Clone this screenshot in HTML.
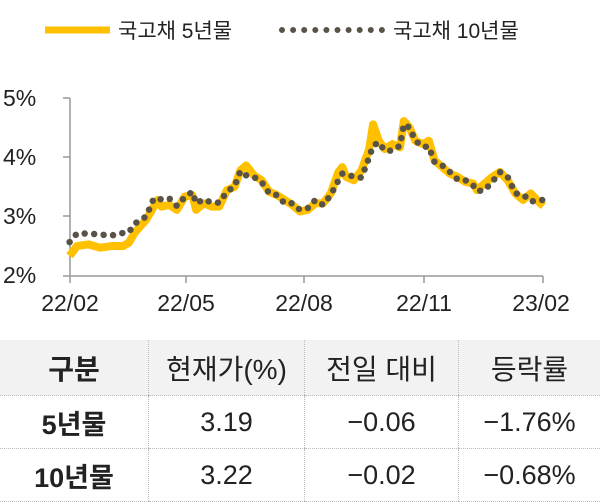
<!DOCTYPE html>
<html><head><meta charset="utf-8"><style>
body{margin:0;width:600px;height:504px;background:#fff;font-family:"Liberation Sans","Noto Sans CJK KR",sans-serif;overflow:hidden;position:relative}
table{position:absolute;left:0;top:340px;width:600px;border-collapse:collapse;table-layout:fixed}
td{text-align:center;color:#222;font-size:27px;border-left:1px dotted #bbb;border-bottom:1px dotted #bbb;padding:0}
td:first-child{border-left:none;font-weight:bold}
tr.h td{background:#f2f2f2;height:55px;font-size:28px}
tr.r td{height:52px}
</style></head><body>
<svg width="600" height="340" style="position:absolute;left:0;top:0">
<line x1="45" y1="30" x2="110" y2="30" stroke="#FFC000" stroke-width="7"/>
<text x="118" y="38" font-size="21" fill="#222" font-family="Liberation Sans,Noto Sans CJK KR,sans-serif">국고채 5년물</text>
<line x1="282" y1="30" x2="382" y2="30" stroke="#595246" stroke-width="6" stroke-linecap="round" stroke-dasharray="0 11.1"/>
<text x="393" y="38" font-size="21" fill="#222" font-family="Liberation Sans,Noto Sans CJK KR,sans-serif">국고채 10년물</text>
<g font-size="23" fill="#222" font-family="Liberation Sans,sans-serif">
<text x="3" y="106">5%</text><text x="3" y="165">4%</text><text x="3" y="224">3%</text><text x="3" y="283">2%</text>
<text x="70" y="311" text-anchor="middle">22/02</text><text x="186" y="311" text-anchor="middle">22/05</text><text x="304" y="311" text-anchor="middle">22/08</text><text x="424" y="311" text-anchor="middle">22/11</text><text x="541" y="311" text-anchor="middle">23/02</text>
</g>
<g stroke="#999" stroke-width="1.5">
<line x1="70" y1="98" x2="70" y2="276"/><line x1="70" y1="276" x2="543" y2="276"/>
<line x1="63" y1="98" x2="70" y2="98"/><line x1="63" y1="157" x2="70" y2="157"/><line x1="63" y1="216" x2="70" y2="216"/><line x1="63" y1="276" x2="70" y2="276"/>
<line x1="70" y1="276" x2="70" y2="283"/><line x1="186" y1="276" x2="186" y2="283"/><line x1="304" y1="276" x2="304" y2="283"/><line x1="424" y1="276" x2="424" y2="283"/><line x1="543" y1="276" x2="543" y2="283"/>
</g>
<g transform="translate(0,98) scale(0.3846,0.329) translate(0,-50)" fill="none">
<polyline vector-effect="non-scaling-stroke" stroke="#FFC000" stroke-width="8" stroke-linejoin="round" points="181,530 200,500 230,495 260,505 290,500 320,500 335,490 350,460 380,420 400,380 410,360 420,380 440,375 460,390 480,350 500,345 510,390 530,370 550,380 570,380 590,330 610,320 625,270 640,255 660,285 680,300 700,335 720,345 740,360 760,375 780,395 800,390 820,370 840,370 860,340 880,275 890,260 900,290 920,300 940,270 960,205 970,130 985,180 1000,205 1020,190 1040,200 1050,120 1065,140 1080,180 1100,190 1115,180 1130,240 1150,260 1170,280 1190,290 1210,305 1230,310 1240,330 1260,310 1280,290 1300,275 1320,300 1340,340 1360,360 1380,340 1400,365 1413,378"/>
<polyline vector-effect="non-scaling-stroke" stroke="#595246" stroke-width="6.5" stroke-linecap="round" stroke-dasharray="0 9.5" points="181,488 200,462 230,462 260,465 290,468 320,460 335,458 350,432 380,410 400,355 420,358 440,355 460,378 480,352 500,335 510,370 530,358 550,368 570,368 590,335 610,318 625,272 640,285 660,290 680,305 700,340 720,345 740,370 760,370 780,390 800,385 820,360 840,375 860,345 880,300 890,280 900,280 920,290 940,292 960,230 970,195 985,185 1000,210 1020,210 1040,195 1050,130 1065,140 1080,180 1100,198 1115,198 1130,245 1150,255 1170,275 1190,298 1210,300 1230,315 1240,333 1260,330 1280,305 1300,275 1320,290 1340,340 1360,343 1380,365 1400,360 1413,360"/>
</g>
</svg>
<table>
<tr class="h"><td style="width:148px">구분</td><td style="width:155px">현재가(%)</td><td style="width:153px">전일 대비</td><td>등락률</td></tr>
<tr class="r"><td>5년물</td><td>3.19</td><td>−0.06</td><td>−1.76%</td></tr>
<tr class="r"><td>10년물</td><td>3.22</td><td>−0.02</td><td>−0.68%</td></tr>
</table>
</body></html>
